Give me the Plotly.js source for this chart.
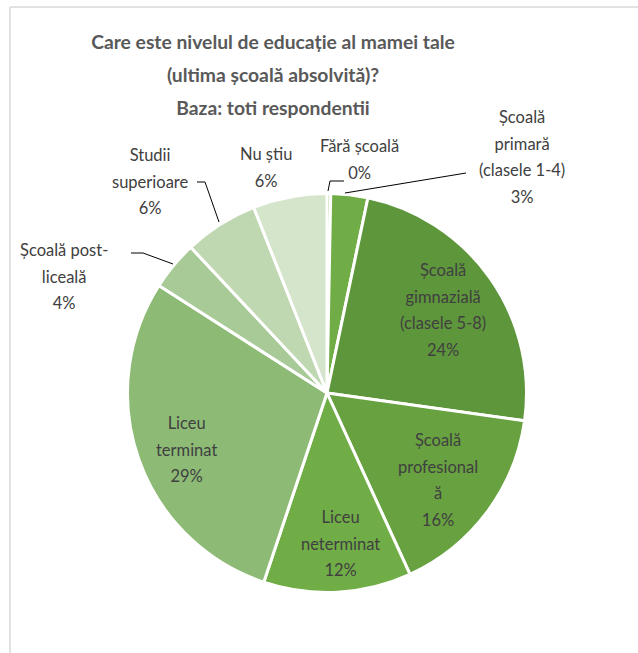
<!DOCTYPE html>
<html>
<head>
<meta charset="utf-8">
<script src="https://cdn.plot.ly/plotly-3.0.1.min.js"></script>
<style>
  html, body { margin: 0; padding: 0; background: #ffffff; }
  #chart { width: 638px; height: 653px; }
</style>
</head>
<body>
<div id="chart"></div>
<script>
// ---- data ----
const categories = [
  "Fără școală",
  "Școală primară (clasele 1-4)",
  "Școală gimnazială (clasele 5-8)",
  "Școală profesională",
  "Liceu neterminat",
  "Liceu terminat",
  "Școală post-liceală",
  "Studii superioare",
  "Nu știu"
];
const values = [0.3, 3, 24, 16, 12, 29, 4, 6, 6];
// how each category label is wrapped on the chart
const labelLines = [
  ["Fără școală"],
  ["Școală", "primară", "(clasele 1-4)"],
  ["Școală", "gimnazială", "(clasele 5-8)"],
  ["Școală", "profesional", "ă"],
  ["Liceu", "neterminat"],
  ["Liceu", "terminat"],
  ["Școală post-", "liceală"],
  ["Studii", "superioare"],
  ["Nu știu"]
];
const titleLines = [
  "Care este nivelul de educație al mamei tale",
  "(ultima școală absolvită)?",
  "Baza: toti respondentii"
];

// ---- styling / layout ----
const W = 638, H = 653;
const colors = ["#70ad47", "#70ad47", "#5e963c", "#67a140", "#70ad47",
                "#8dbb76", "#a7ca97", "#bfd8b2", "#d4e5cb"];
const X = px => px / W;
const Y = py => 1 - py / H;

// label block positions (center x, y of first line) in pixels
const labelPos = [
  [360, 146], [522, 117], [443, 270], [438, 440], [340, 517],
  [187, 423], [64, 250], [150, 155], [266, 154]
];
const LS = 26.5;          // line spacing in px
const labFont = 16.5;     // glyph size
const spacerFont = LS / 1.3;

const total = values.reduce((a, b) => a + b, 0);
const pctText = values.map(v => Math.round(v / total * 100) + "%");

const annotations = [];
labelLines.forEach((lines, i) => {
  const all = lines.concat([pctText[i]]);
  const txt = all.map(s => `<span style="font-size:${labFont}px">${s}</span>`).join("<br>");
  const nLines = all.length;
  const [cx, y0] = labelPos[i];
  const cy = y0 + (nLines - 1) * LS / 2;
  annotations.push({
    xref: "paper", yref: "paper",
    x: X(cx), y: Y(cy),
    xanchor: "center", yanchor: "middle",
    showarrow: false,
    text: txt,
    align: "center",
    font: { family: "Lato, 'Noto Sans', sans-serif", size: spacerFont, color: "#404040" }
  });
});

const shapes = [
  // chart frame (top and left borders)
  { type: "line", xref: "paper", yref: "paper", x0: X(10), x1: X(10), y0: Y(7), y1: 0,
    line: { color: "#d9d9d9", width: 1.5 } },
  { type: "line", xref: "paper", yref: "paper", x0: X(10), x1: 1, y0: Y(7), y1: Y(7),
    line: { color: "#d9d9d9", width: 1.5 } }
];
const leaders = [
  [[328, 191], [330, 181], [344, 181]],
  [[345, 193], [466, 173]],
  [[197, 182], [205, 182], [219, 222]],
  [[131, 253], [143, 253], [173, 264]]
];
leaders.forEach(pts => {
  const d = pts.map((p, k) => (k ? "L" : "M") + X(p[0]) + "," + Y(p[1])).join(" ");
  shapes.push({ type: "path", xref: "paper", yref: "paper", path: d,
                line: { color: "#000000", width: 1 } });
});

const titleTxt = titleLines.map(s => `<span style="font-size:19.3px">${s}</span>`).join("<br>");

const trace = {
  type: "pie",
  labels: categories,
  values: values,
  sort: false,
  direction: "clockwise",
  rotation: 0,
  textinfo: "none",
  hoverinfo: "label+percent",
  marker: { colors: colors, line: { color: "#ffffff", width: 3 } },
  domain: { x: [X(127.5), X(526.5)], y: [Y(592.5), Y(193.5)] },
  showlegend: false
};

const layout = {
  width: W, height: H,
  margin: { l: 0, r: 0, t: 0, b: 0 },
  paper_bgcolor: "#ffffff",
  plot_bgcolor: "#ffffff",
  title: {
    text: titleTxt,
    x: X(273), xanchor: "center", xref: "paper",
    y: Y(49), yanchor: "top", yref: "paper",
    font: { family: "Lato, 'Noto Sans', sans-serif", size: 25.5, color: "#595959", weight: "bold" }
  },
  annotations: annotations,
  shapes: shapes,
  showlegend: false
};

Plotly.newPlot("chart", [trace], layout, { displayModeBar: false, staticPlot: true });
</script>
</body>
</html>
